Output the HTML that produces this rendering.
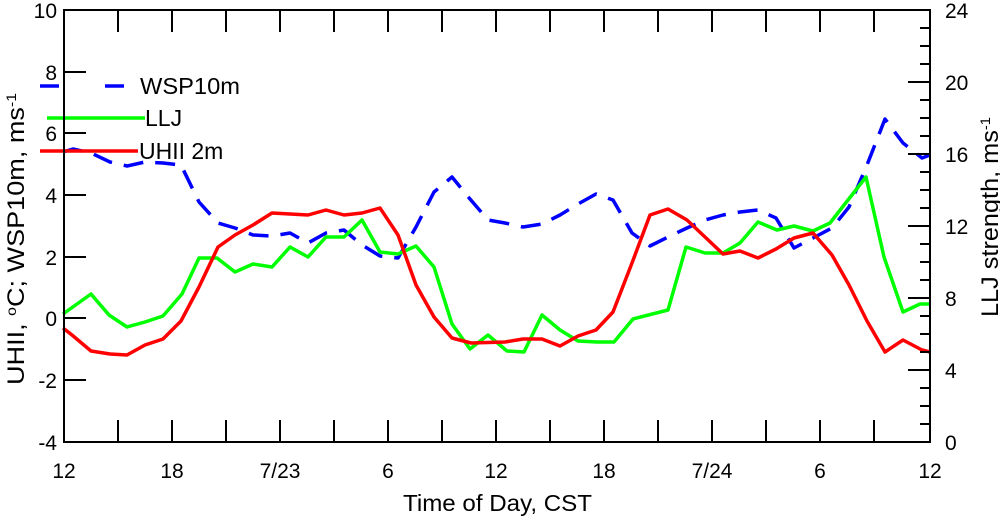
<!DOCTYPE html>
<html><head><meta charset="utf-8"><style>html,body{margin:0;padding:0;background:#fff}</style></head><body>
<svg width="1000" height="516" xmlns="http://www.w3.org/2000/svg" font-family="Liberation Sans, sans-serif" font-size="21">
<g fill="none" stroke-linejoin="round" stroke-width="3.5">
<polyline stroke="#00f" stroke-dasharray="20,12" points="63,152 73,149 91,153 110,162 127,166 145,162 163,163 181,165 199,202 218,223 235,228 253,235 272,236 290,233 308,243 326,233 344,230 362,245 380,256 398,258 416,227 434,192 452,177 470,199 488,220 505,223 523,227 542,224 560,215 578,204 596,194 613,200 632,233 650,246 668,237 687,228 705,220 723,215 740,212 758,210 776,218 794,248 813,238 832,228 849,207 867,165 885,119 903,143 922,158 930,155"/>
<polyline stroke="#0f0" points="63,314 91,294 109,315 127,327 145,322 163,316 182,294 199,258 217,258 235,272 253,264 272,267 290,247 308,257 326,237 344,237 362,220 380,252 398,254 416,246 434,267 452,324 470,349 488,335 507,351 524,352 542,315 560,330 578,341 597,342 614,342 633,319 668,310 686,247 705,253 723,253 740,243 758,222 777,230 794,226 813,231 830,223 848,200 866,177 884,257 903,312 920,304 930,304"/>
<polyline stroke="#f00" points="63,328 72,335 91,351 110,354 127,355 145,345 163,339 181,321 199,287 218,247 235,235 253,225 272,213 290,214 308,215 326,210 344,215 362,213 380,208 398,235 416,285 434,317 452,338 471,343 505,342 523,339 542,339 560,346 578,336 596,330 613,312 632,263 650,215 668,209 687,220 705,237 723,254 740,251 758,258 776,249 794,238 813,233 832,255 849,285 867,321 885,352 903,340 922,350 930,352"/>
<line x1="40" y1="86" x2="59" y2="86" stroke="#00f"/><line x1="105" y1="86" x2="124" y2="86" stroke="#00f"/>
<line x1="47" y1="118" x2="145" y2="118" stroke="#0f0"/>
<line x1="40" y1="151" x2="138" y2="151" stroke="#f00"/>
</g>
<g stroke="#000" stroke-width="2" fill="none">
<rect x="64" y="10" width="866" height="432"/>
<path d="M64,72h22M64,133h22M64,195h22M64,257h22M64,318h22M64,380h22"/>
<path d="M118,442v-22M172,442v-22M226,442v-22M280,442v-22M334,442v-22M388,442v-22M442,442v-22M496,442v-22M550,442v-22M604,442v-22M658,442v-22M712,442v-22M766,442v-22M820,442v-22M874,442v-22"/>
<path d="M118,10v22M172,10v22M226,10v22M280,10v22M334,10v22M388,10v22M442,10v22M496,10v22M550,10v22M604,10v22M658,10v22M712,10v22M766,10v22M820,10v22M874,10v22"/>
<path d="M930,370h-22M930,298h-22M930,226h-22M930,154h-22M930,82h-22"/>
<path d="M930,424h-10M930,406h-10M930,388h-10M930,352h-10M930,334h-10M930,316h-10M930,280h-10M930,262h-10M930,244h-10M930,208h-10M930,190h-10M930,172h-10M930,136h-10M930,118h-10M930,100h-10M930,64h-10M930,46h-10M930,28h-10"/>
</g>
<g text-anchor="end">
<text x="57" y="18">10</text><text x="57" y="80">8</text><text x="57" y="141">6</text><text x="57" y="203">4</text><text x="57" y="265">2</text><text x="57" y="326">0</text><text x="57" y="388">-2</text><text x="57" y="450">-4</text>
</g>
<g text-anchor="start">
<text x="945" y="450">0</text><text x="945" y="378">4</text><text x="945" y="306">8</text><text x="945" y="234">12</text><text x="945" y="162">16</text><text x="945" y="90">20</text><text x="945" y="18">24</text>
</g>
<g text-anchor="middle">
<text x="64" y="478">12</text><text x="172" y="478">18</text><text x="280" y="478">7/23</text><text x="388" y="478">6</text><text x="496" y="478">12</text><text x="604" y="478">18</text><text x="712" y="478">7/24</text><text x="820" y="478">6</text><text x="930" y="478">12</text>
</g>
<text x="403" y="511" font-size="23" textLength="189" lengthAdjust="spacingAndGlyphs">Time of Day, CST</text>
<g font-size="23">
<text x="140" y="94" textLength="100" lengthAdjust="spacingAndGlyphs">WSP10m</text><text x="145" y="126">LLJ</text><text x="139" y="159">UHII 2m</text>
</g>
<text transform="translate(24,385) rotate(-90)" font-size="24" textLength="292" lengthAdjust="spacingAndGlyphs">UHII, <tspan font-size="14" dy="-8">o</tspan><tspan dy="8">C; WSP10m, ms</tspan><tspan font-size="14" dy="-8">-1</tspan></text>
<text transform="translate(998,317) rotate(-90)" font-size="24" textLength="200" lengthAdjust="spacingAndGlyphs">LLJ strength, ms<tspan font-size="14" dy="-8">-1</tspan></text>
</svg>
</body></html>
